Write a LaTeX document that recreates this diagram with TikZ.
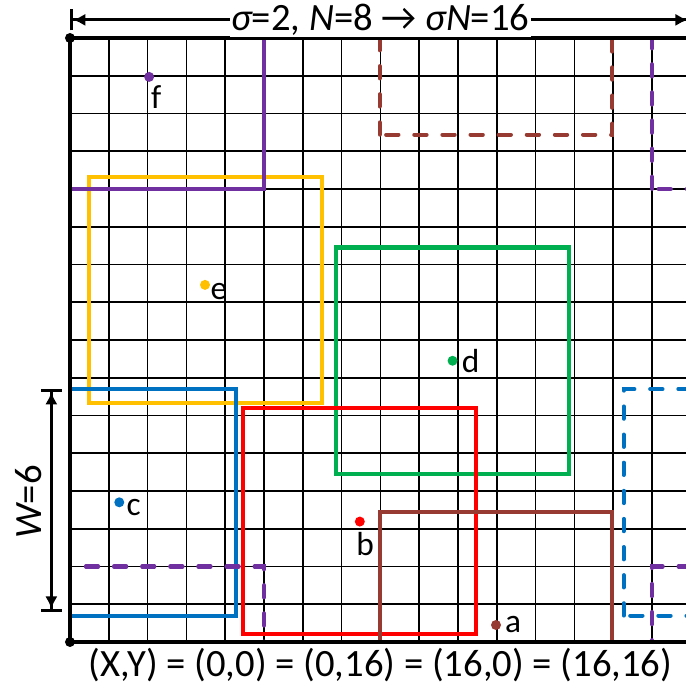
\documentclass[tikz,border=0pt]{standalone}
\usepackage{fontspec}
\setmainfont{Carlito}
\usetikzlibrary{positioning,arrows.meta}
\definecolor{ptred}{RGB}{255,0,0}
\definecolor{ptbrown}{RGB}{150,58,50}
\definecolor{ptblue}{RGB}{0,112,192}
\definecolor{ptgreen}{RGB}{0,176,80}
\definecolor{ptgold}{RGB}{255,192,0}
\definecolor{ptpurple}{RGB}{112,48,160}
% W x W window round a point, with its periodic copies dashed
\newcommand{\wrapbox}[2]{%
  \draw[box,#1,shift={(#2)}] (-3,-3) rectangle (3,3);
  \foreach \dx/\dy in {16/0,-16/0,0/16,0/-16,16/16,16/-16,-16/16,-16/-16}
    \draw[box,wrapped,#1,shift={(#2)},shift={(\dx,\dy)}] (-3,-3) rectangle (3,3);}

\begin{document}
\begin{tikzpicture}[x=0.776cm,y=0.755cm,
    gridline/.style={black,line width=0.9pt},
    frame/.style={black,line width=2.6pt},
    box/.style={line width=2.3pt},
    wrapped/.style={line cap=round,dash pattern=on 7pt off 9pt},
    pt/.style={circle,inner sep=0pt,minimum size=0.2cm},
    lbl/.style={inner sep=0pt,font=\fontsize{19}{22}\selectfont},
    bigtext/.style={inner sep=1pt,font=\fontsize{22}{26}\selectfont}]
  \useasboundingbox (-1.804,-1.166) rectangle (15.876,17.007);
  \clip (-1.804,-1.166) rectangle (15.876,17.007);

  \foreach \i in {1,...,15} {
    \draw[gridline] (\i,0) -- (\i,16);
    \draw[gridline] (0,\i) -- (16,\i);
  }

  \begin{scope}
    \clip (0,0) rectangle (16,16);
    \wrapbox{ptgold}{3.5,9.33}
    \wrapbox{ptblue}{1.27,3.7}
    \wrapbox{ptgreen}{9.86,7.45}
    \wrapbox{ptred}{7.47,3.2}
    \wrapbox{ptbrown}{10.98,0.44}
    \wrapbox{ptpurple}{2,15}
  \end{scope}

  \draw[frame] (0,0) rectangle (16,16);
  \foreach \c in {(0,0),(0,16),(16,0),(16,16)}
    \fill \c circle (0.1cm);

  % sample points
  \node[pt,fill=ptbrown] (a) at (10.98,0.45) {};
  \node[pt,fill=ptred] (b) at (7.47,3.19) {};
  \node[pt,fill=ptblue] (c) at (1.27,3.7) {};
  \node[pt,fill=ptgreen] (d) at (9.86,7.45) {};
  \node[pt,fill=ptgold] (e) at (3.48,9.46) {};
  \node[pt,fill=ptpurple] (f) at (2.04,14.97) {};
  \node[lbl,right=2pt of a] {a};
  \node[lbl,below=3pt of b,xshift=3pt] {b};
  \node[lbl,right=1pt of c,yshift=-3pt] {c};
  \node[lbl,right=2pt of d] {d};
  \node[lbl,right=0pt of e,yshift=-4pt] {e};
  \node[lbl,below=2pt of f,xshift=4pt] {f};

  % dimensions
  \coordinate (tl) at (0,16.48);
  \coordinate (tr) at (16,16.48);
  \draw[line width=1.7pt,{Bar[width=12pt]Latex[length=7pt,width=7pt]}-{Latex[length=7pt,width=7pt]Bar[width=12pt]}] (tl) -- (tr);
  \node[bigtext,fill=white] (sig) at (8,16.48) {{\itshape σ}=2, {\itshape N}=8 → {\itshape σN}=16};

  \coordinate (wb) at (-0.48,0.8);
  \coordinate (wt) at (-0.48,6.7);
  \draw[line width=1.7pt,{Bar[width=12pt]Latex[length=7pt,width=7pt]}-{Latex[length=7pt,width=7pt]Bar[width=12pt]}] (wb) -- (wt);
  \node[bigtext,rotate=90] (w) at (-1.08,3.71) {{\itshape W}=6};

  \node[bigtext] (xy) at (8,-0.61) {(X,Y) = (0,0) = (0,16) = (16,0) = (16,16)};
\end{tikzpicture}
\end{document}
